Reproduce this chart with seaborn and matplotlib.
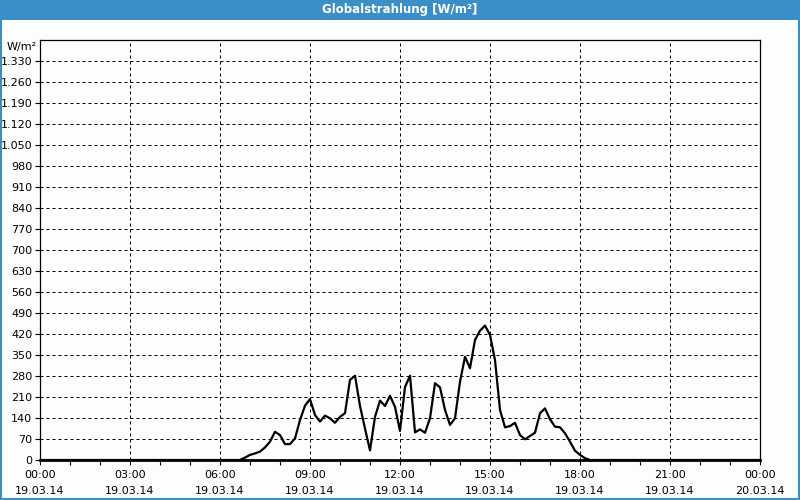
import matplotlib
matplotlib.use("Agg")
import matplotlib.pyplot as plt
import seaborn as sns
import pandas as pd
import numpy as np
from matplotlib.patches import Rectangle

# ---- data ----
times = ["00:00", "06:40", "06:50", "07:00", "07:10", "07:20", "07:30", "07:40", "07:50",
         "08:00", "08:10", "08:20", "08:30", "08:40", "08:50",
         "09:00", "09:10", "09:20", "09:30", "09:40", "09:50",
         "10:00", "10:10", "10:20", "10:30", "10:40", "10:50",
         "11:00", "11:10", "11:20", "11:30", "11:40", "11:50",
         "12:00", "12:10", "12:20", "12:30", "12:40", "12:50",
         "13:00", "13:10", "13:20", "13:30", "13:40", "13:50",
         "14:00", "14:10", "14:20", "14:30", "14:40", "14:50",
         "15:00", "15:10", "15:20", "15:30", "15:40", "15:50",
         "16:00", "16:10", "16:20", "16:30", "16:40", "16:50",
         "17:00", "17:10", "17:20", "17:30", "17:40", "17:50",
         "18:00", "18:10", "18:20", "24:00"]
values = [0, 0, 8, 17, 22, 28, 42, 61, 94,
          83, 53, 53, 72, 133, 181,
          203, 150, 128, 148, 139, 124,
          144, 156, 267, 281, 180, 105,
          32, 144, 198, 180, 214, 177,
          97, 243, 281, 92, 102, 91,
          139, 256, 242, 167, 117, 139,
          261, 344, 306, 400, 431, 448,
          417, 333, 167, 109, 113, 124,
          83, 69, 80, 91, 156, 172,
          136, 111, 109, 89, 61, 31,
          17, 6, 0, 0]
x_tick_hours = [0, 3, 6, 9, 12, 15, 18, 21, 24]
x_tick_labels = ["00:00\n19.03.14", "03:00\n19.03.14", "06:00\n19.03.14", "09:00\n19.03.14",
                 "12:00\n19.03.14", "15:00\n19.03.14", "18:00\n19.03.14", "21:00\n19.03.14",
                 "00:00\n20.03.14"]
y_max = 1400
y_step = 70
title = "Globalstrahlung [W/m²]"
unit = "W/m²"

hours = [int(t[:2]) + int(t[3:]) / 60 for t in times]
df = pd.DataFrame({"hour": hours, "value": values})

sns.set_theme(style="white")
plt.rcParams["font.family"] = ["DejaVu Sans"]

fig = plt.figure(figsize=(8, 5), dpi=100)
fig.patch.set_facecolor("#FBFEFB")
blue = "#3C8FC6"
# title bar
fig.patches.append(Rectangle((0, 0.96), 1, 0.04, transform=fig.transFigure,
                             facecolor=blue, edgecolor="none", zorder=0))
# border
fig.patches.append(Rectangle((0.0015, 0.002), 0.997, 0.996, transform=fig.transFigure,
                             facecolor="none", edgecolor=blue, linewidth=1.5, zorder=5))
fig.text(0.5, 0.98, title, color="white", ha="center", va="center",
         fontsize=8.5, fontweight="bold")

ax = fig.add_axes([0.05, 0.08, 0.90, 0.84])
ax.set_facecolor("#FBFEFB")

sns.lineplot(data=df, x="hour", y="value", ax=ax, color="black", linewidth=1.6, zorder=3)

ax.set_xlim(0, 24)
ax.set_ylim(0, y_max)

yt = list(range(0, y_max, y_step))
ylabels = [f"{v:,}".replace(",", ".") for v in yt]
ax.set_yticks(yt)
ax.set_yticklabels(ylabels)
ax.text(-0.004, 0.983, unit, transform=ax.transAxes, ha="right", va="center",
        fontsize=8, color="black")
ax.set_xticks(x_tick_hours)
ax.set_xticklabels(x_tick_labels, linespacing=1.75)
ax.set_xticks(list(range(0, 25)), minor=True)

ax.tick_params(axis="both", which="both", direction="out", length=3.5, width=0.8,
               colors="black", labelsize=8, pad=2)
ax.tick_params(axis="x", which="major", pad=4)
ax.tick_params(axis="y", which="both", left=True)
ax.tick_params(axis="x", which="both", bottom=True)

for h in x_tick_hours[1:-1]:
    ax.axvline(h, color="black", linewidth=0.72, linestyle=(0, (3, 3)), zorder=1)
for v in yt[1:]:
    ax.axhline(v, color="black", linewidth=0.72, linestyle=(0, (3, 3)), zorder=1)

ax.set_xlabel("")
ax.set_ylabel("")
for s in ["left", "top", "right"]:
    ax.spines[s].set_color("black")
    ax.spines[s].set_linewidth(0.9)
ax.spines["bottom"].set_color("black")
ax.spines["bottom"].set_linewidth(2)

fig.savefig("out.png", dpi=100, facecolor=fig.get_facecolor())
